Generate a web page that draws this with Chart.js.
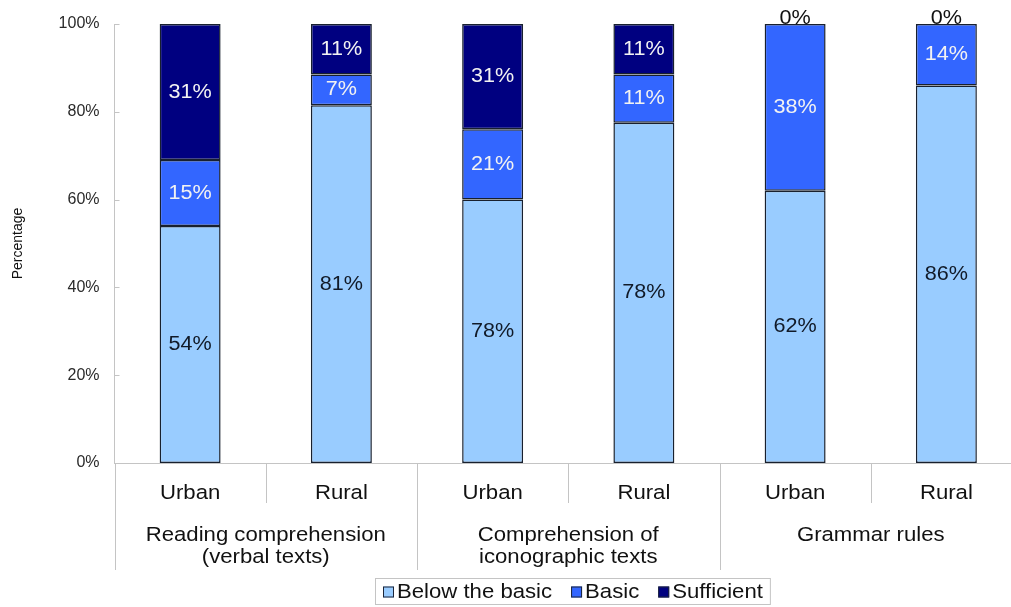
<!DOCTYPE html>
<html>
<head>
<meta charset="utf-8">
<script src="https://cdn.jsdelivr.net/npm/chart.js@4.4.1/dist/chart.umd.min.js"></script>
<style>
  html, body { margin: 0; padding: 0; background: #fff; overflow: hidden; }
  #wrap { position: relative; width: 1030px; height: 607px; }
</style>
</head>
<body>
<div id="wrap"><canvas id="chart"></canvas></div>
<script>
// values
const areas = ["Urban", "Rural", "Urban", "Rural", "Urban", "Rural"];
const groups = [
  ["Reading comprehension", "(verbal texts)"],
  ["Comprehension of", "iconographic texts"],
  ["Grammar rules"],
];
const seriesNames = ["Below the basic", "Basic", "Sufficient"];
const belowBasic = [54, 81.5, 60, 77.5, 62, 86];
const basic = [15, 7, 16, 11, 38, 14];
const sufficient = [31, 11.5, 24, 11.5, 0, 0];
// printed labels (as written on the original, not always equal to bar height)
const belowText = ["54%", "81%", "78%", "78%", "62%", "86%"];
const basicText = ["15%", "7%", "21%", "11%", "38%", "14%"];
const sufficientText = ["31%", "11%", "31%", "11%", "0%", "0%"];
const yTicks = [0, 20, 40, 60, 80, 100];

const colors = ["#99ccff", "#3366ff", "#000080"];
const FONT = "'Liberation Sans', Arial, sans-serif";
const SX = 1.08; // the original text is a bit wide

function drawText(ctx, str, x, y, size, color, align) {
  ctx.save();
  ctx.translate(x, y);
  ctx.scale(SX, 1);
  ctx.font = size + "px " + FONT;
  ctx.fillStyle = color;
  ctx.textAlign = align || "center";
  ctx.textBaseline = "middle";
  ctx.fillText(str, 0, 0);
  ctx.restore();
}

function textWidth(ctx, str, size) {
  ctx.font = size + "px " + FONT;
  return ctx.measureText(str).width * SX;
}

const overlay = {
  id: "overlay",
  afterDatasetsDraw(chart) {
    const ctx = chart.ctx;
    const texts = [belowText, basicText, sufficientText];
    chart.data.datasets.forEach((ds, i) => {
      const meta = chart.getDatasetMeta(i);
      meta.data.forEach((el, j) => {
        const v = ds.data[j];
        let y = (el.y + el.base) / 2;
        let color = i === 0 ? "#111a28" : "#f2f2f2";
        if (v === 0) { y = el.y - 6; color = "#111"; }
        drawText(ctx, texts[i][j], el.x, y, 20, color);
      });
    });
  },
  afterDraw(chart) {
    const ctx = chart.ctx;
    const area = chart.chartArea;
    const x = chart.scales.x;
    const y = chart.scales.y;
    const step = (area.right - area.left) / areas.length;

    ctx.save();
    ctx.strokeStyle = "#c4c4c4";
    ctx.lineWidth = 1;
    // inward tick marks on the value axis
    yTicks.forEach((t) => {
      const py = Math.round(y.getPixelForValue(t)) + 0.5;
      ctx.beginPath();
      ctx.moveTo(area.left, py);
      ctx.lineTo(area.left + 5, py);
      ctx.stroke();
    });
    // category separators
    for (let k = 0; k <= areas.length; k++) {
      const px = Math.round(area.left + k * step) + 0.5;
      ctx.beginPath();
      ctx.moveTo(px, area.bottom);
      ctx.lineTo(px, area.bottom + (k % 2 === 0 ? 107 : 40));
      ctx.stroke();
    }
    ctx.restore();

    // area labels and group labels
    areas.forEach((a, i) => {
      drawText(ctx, a, x.getPixelForValue(i), area.bottom + 30, 20.5, "#111");
    });
    groups.forEach((lines, g) => {
      const cx = area.left + (2 * g + 1) * step;
      lines.forEach((ln, k) => {
        drawText(ctx, ln, cx, area.bottom + 72 + k * 22, 20.5, "#111");
      });
    });

    // y title
    ctx.save();
    ctx.translate(18, (area.top + area.bottom) / 2);
    ctx.rotate(-Math.PI / 2);
    ctx.font = "14px " + FONT;
    ctx.fillStyle = "#111";
    ctx.textAlign = "center";
    ctx.textBaseline = "middle";
    ctx.fillText("Percentage", 0, 0);
    ctx.restore();

    // legend with a frame
    const lsize = 20.5, sq = 11, gap = 3, itemGap = 19, padL = 8, padR = 7;
    const widths = seriesNames.map((n) => textWidth(ctx, n, lsize));
    let total = padL + padR + itemGap * (seriesNames.length - 1);
    widths.forEach((w) => { total += sq + gap + w; });
    const cx = 572, top = 578, h = 26;
    let lx = Math.round(cx - total / 2);
    ctx.save();
    ctx.strokeStyle = "#c4c4c4";
    ctx.strokeRect(lx + 0.5, top + 0.5, total, h);
    ctx.restore();
    let px = lx + padL;
    const my = top + h / 2 + 1;
    seriesNames.forEach((n, i) => {
      ctx.save();
      ctx.fillStyle = colors[i];
      ctx.fillRect(px, my - sq / 2, sq, sq);
      ctx.strokeStyle = "#1c2538";
      ctx.lineWidth = 1;
      ctx.strokeRect(px + 0.5, my - sq / 2 + 0.5, sq - 1, sq - 1);
      ctx.restore();
      drawText(ctx, n, px + sq + gap, my, lsize, "#111", "left");
      px += sq + gap + widths[i] + itemGap;
    });
  },
};

const makeSet = (label, data, i) => ({
  label,
  data,
  backgroundColor: colors[i],
  borderColor: "#18202e",
  borderWidth: 1.5,
  borderSkipped: false,
  categoryPercentage: 1,
  barPercentage: 0.403,
});

new Chart(document.getElementById("chart"), {
  type: "bar",
  data: {
    labels: areas,
    datasets: [
      makeSet(seriesNames[0], belowBasic, 0),
      makeSet(seriesNames[1], basic, 1),
      makeSet(seriesNames[2], sufficient, 2),
    ],
  },
  options: {
    responsive: true,
    maintainAspectRatio: false,
    animation: false,
    layout: { padding: { top: 24, right: 8, bottom: 144, left: 0 } },
    plugins: { legend: { display: false }, tooltip: { enabled: false } },
    scales: {
      x: {
        stacked: true,
        grid: { display: false },
        border: { display: true, color: "#c4c4c4" },
        ticks: { display: false },
        afterFit: (s) => { s.height = 0; },
      },
      y: {
        stacked: true,
        min: 0,
        max: 100,
        afterBuildTicks: (s) => { s.ticks = yTicks.map((v) => ({ value: v })); },
        grid: { display: false },
        border: { display: true, color: "#c4c4c4" },
        ticks: {
          color: "#2a2a2a",
          font: { size: 16, family: FONT },
          padding: 7,
          callback: (v) => v + "%",
        },
        afterFit: (s) => { s.width = 114.5; },
      },
    },
  },
  plugins: [overlay],
});
</script>
</body>
</html>
